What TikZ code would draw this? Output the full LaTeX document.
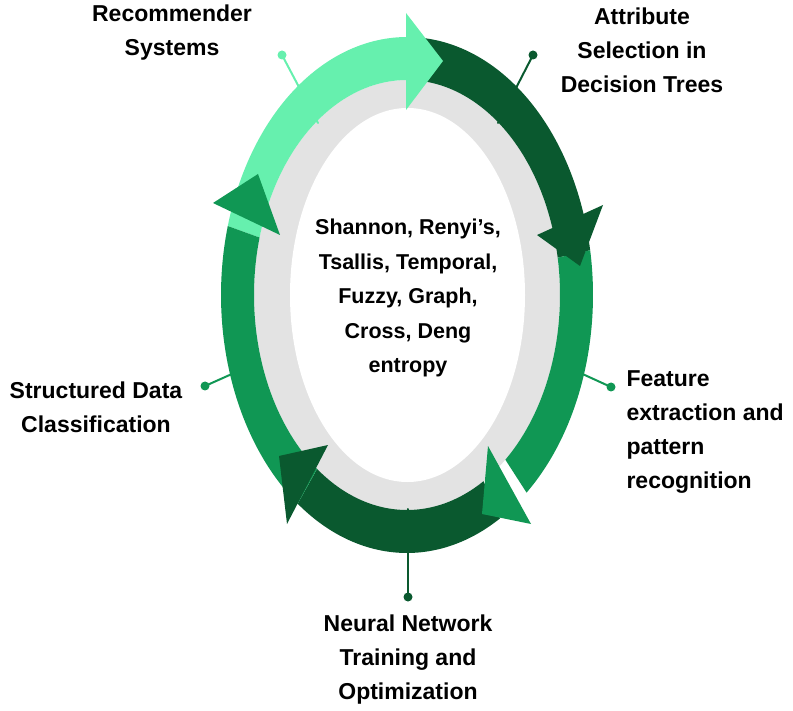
\documentclass[tikz,border=0pt]{standalone}
\usepackage{fontspec}
\setmainfont{Liberation Sans}
\usepackage{tikz}
\usetikzlibrary{arrows}
\definecolor{lightgr}{RGB}{102,240,174}
\definecolor{midgr}{RGB}{16,151,84}
\definecolor{darkgr}{RGB}{10,89,47}
\definecolor{ringgray}{RGB}{227,227,227}
% one piece of the coloured ring, from angle #2 to angle #3
\newcommand{\ringpart}[3]{\fill[#1] plot[domain=#2:#3,samples=60] ({407+186*cos(\x)},{295-258*sin(\x)}) -- plot[domain=#3:#2,samples=60] ({407+153*cos(\x)},{295-215*sin(\x)}) -- cycle;}

\begin{document}
\begin{tikzpicture}[line cap=round,line join=round,x=1pt,y=-1pt,
  calldot/.style={circle,fill=#1,inner sep=0pt,minimum size=9pt},
  label/.style={align=center,font=\fontsize{23}{34}\selectfont\bfseries}]
        \useasboundingbox (0,0) rectangle (793,711);
        \fill[ringgray] (407,295) ellipse [x radius=153, y radius=215];
        \fill[white] (407.5,295) ellipse [x radius=117.5, y radius=187];
        % callouts
        \node[calldot=lightgr] (recDot) at (282,55) {};
        \node[calldot=darkgr] (attrDot) at (533,55) {};
        \node[calldot=midgr] (featDot) at (611,387) {};
        \node[calldot=midgr] (structDot) at (205,386) {};
        \node[calldot=darkgr] (neuralDot) at (408,597) {};
        \coordinate (recEnd) at (318,123);
        \coordinate (attrEnd) at (498,123);
        \coordinate (featEnd) at (565,366);
        \coordinate (structEnd) at (252,365);
        \coordinate (neuralEnd) at (408,509);
        \draw[lightgr,line width=2pt] (recDot.center) -- (recEnd);
        \draw[darkgr,line width=2pt] (attrDot.center) -- (attrEnd);
        \draw[midgr,line width=2pt] (featDot.center) -- (featEnd);
        \draw[midgr,line width=2pt] (structDot.center) -- (structEnd);
        \draw[darkgr,line width=2pt] (neuralDot.center) -- (neuralEnd);
        % ring
        \ringpart{lightgr}{164.5}{89}
        \ringpart{darkgr}{89.5}{10}
        \ringpart{midgr}{10}{-50}
        \ringpart{darkgr}{-60}{-126}
        \ringpart{midgr}{234}{164.5}
        % arrow heads
        \fill[lightgr] (406,13) -- (443,61) -- (406,110) -- cycle;
        \fill[darkgr] (537,235) -- (603,205) -- (580,266) -- cycle;
        \fill[midgr] (488,446) -- (531,524) -- (482,514) -- cycle;
        \fill[darkgr] (328,445) -- (279,456) -- (287,524) -- cycle;
        \fill[midgr] (280,235) -- (258,174) -- (213,203) -- cycle;
        % texts
        \node[label] (rec) at (172,33) {Recommender\\Systems};
        \node[label] (attr) at (642,50) {Attribute\\Selection in\\Decision Trees};
        \node[label,align=left,anchor=west] (feat) at (623,432) {Feature\\extraction and\\pattern\\recognition};
        \node[label] (struct) at (96,407) {Structured Data\\Classification};
        \node[label] (neural) at (408,660) {Neural Network\\Training and\\Optimization};
        \node[align=center,font=\fontsize{21.5}{34.5}\selectfont\bfseries] (entropies) at (408,298)
          {Shannon, Renyi’s,\\Tsallis, Temporal,\\Fuzzy, Graph,\\Cross, Deng\\entropy};
      \end{tikzpicture}
\end{document}
